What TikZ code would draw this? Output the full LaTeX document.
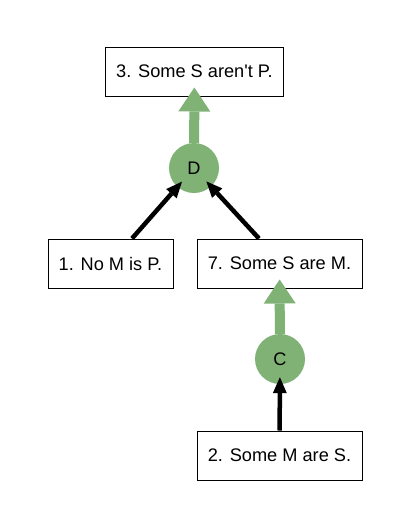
\documentclass[tikz,border=0pt]{standalone}
\usepackage{fontspec}
\setmainfont{Liberation Sans}
\usetikzlibrary{arrows.meta}
\definecolor{gnode}{RGB}{128,178,118}
\tikzset{
  box/.style={draw=black, line width=1pt, fill=white, minimum height=49pt, inner sep=0pt, font=\fontsize{18.2}{22}\selectfont},
  rule/.style={circle, fill=gnode, minimum size=50pt, inner sep=0pt, font=\fontsize{18.2}{22}\selectfont},
  garrow/.style={draw=gnode, line width=10pt, -{Triangle[width=32pt,length=24pt,line width=0pt]}, shorten >=-9pt},
  barrow/.style={draw=black, line width=4.5pt, -{Triangle[width=14pt,length=16pt,line width=0pt]}, shorten >=-7pt}
}
\begin{document}
\begin{tikzpicture}[x=1pt,y=-1pt]
\useasboundingbox (0,0) rectangle (410,528);
\node[box, minimum width=178pt] (b3) at (194.5,71.5) {3. Some S aren\textquotesingle t P.};
\node[rule] (d) at (194,168) {D};
\node[box, minimum width=125pt] (b1) at (110.5,263.5) {1. No M is P.};
\node[box, minimum width=165pt] (b7) at (279.5,263.5) {7. Some S are M.};
\node[rule] (c) at (280,359) {C};
\node[box, minimum width=165pt] (b2) at (279.5,455.5) {2. Some M are S.};
\draw[garrow] (d) -- (b3);
\draw[barrow] ([xshift=21.5pt]b1.north) -- (d);
\draw[barrow] ([xshift=-20.5pt]b7.north) -- (d);
\draw[garrow] (c) -- (b7);
\draw[barrow] (b2) -- (c);
\end{tikzpicture}
\end{document}
